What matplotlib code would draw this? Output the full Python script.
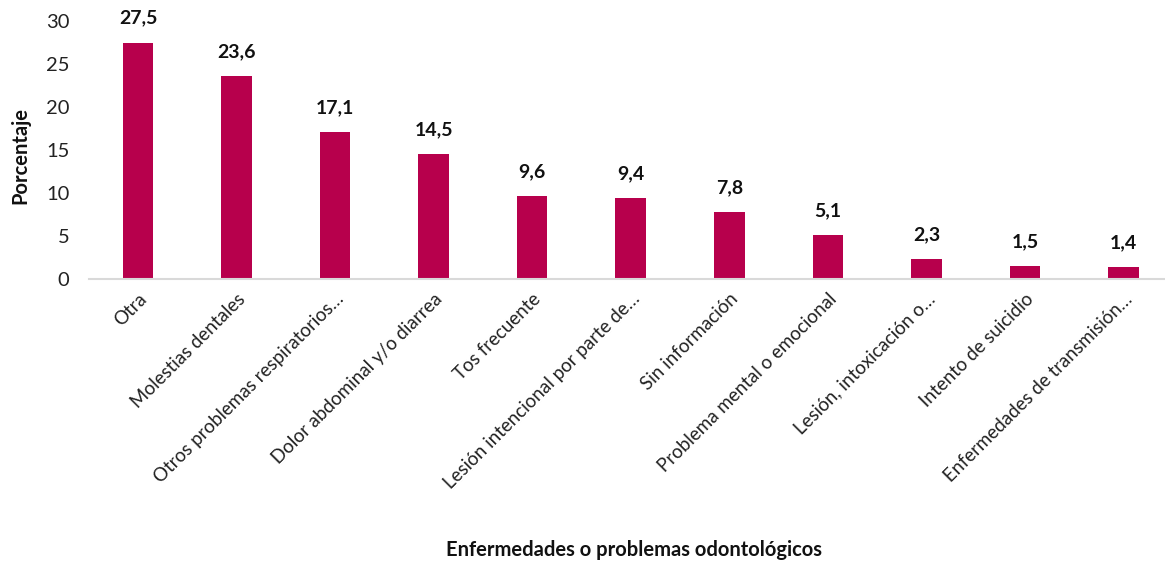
import matplotlib.pyplot as plt

categories = [
    "Otra",
    "Molestias dentales",
    "Otros problemas respiratorios…",
    "Dolor abdominal y/o diarrea",
    "Tos frecuente",
    "Lesión intencional por parte de…",
    "Sin información",
    "Problema mental o emocional",
    "Lesión, intoxicación o…",
    "Intento de suicidio",
    "Enfermedades de transmisión…",
]
values = [27.5, 23.6, 17.1, 14.5, 9.6, 9.4, 7.8, 5.1, 2.3, 1.5, 1.4]
y_ticks = [0, 5, 10, 15, 20, 25, 30]

BAR_COLOR = "#B7004C"

plt.rcParams["font.family"] = ["Lato", "DejaVu Sans"]

fig = plt.figure(figsize=(11.65, 5.62), dpi=100)
ax = fig.add_axes([88.7 / 1165, 283 / 562, 1084 / 1165, 258 / 562])

x = list(range(len(categories)))
bars = ax.bar(x, values, width=0.31, color=BAR_COLOR, zorder=2)

# ---------------- VALUE LABELS ----------------
for rect, v in zip(bars, values):
    ax.annotate(
        f"{v:.1f}".replace(".", ","),
        (rect.get_x() + rect.get_width() / 2, rect.get_height()),
        xytext=(0, 11.5), textcoords="offset points",
        ha="center", va="bottom", fontsize=14, fontweight="bold",
        color="#111111", annotation_clip=False,
    )

# ---------------- AXES ----------------
ax.set_xlim(-0.5, len(categories) - 0.5)
ax.set_ylim(0, 30)
ax.set_yticks(y_ticks)
ax.set_yticklabels([str(t) for t in y_ticks], fontsize=14.5, color="#222222")
ax.set_xticks(x)
ax.set_xticklabels(categories, rotation=45, ha="right", rotation_mode="anchor",
                   fontsize=13.5, color="#222222")
ax.tick_params(axis="both", length=0)
ax.tick_params(axis="y", pad=14)
ax.tick_params(axis="x", pad=8)

for side in ["top", "right", "left"]:
    ax.spines[side].set_visible(False)
ax.spines["bottom"].set_color("#D9D9D9")
ax.spines["bottom"].set_linewidth(1.5)
ax.spines["bottom"].set_zorder(3)

fig.text(20 / 1165, 1 - 156 / 562, "Porcentaje", rotation=90, ha="center",
         va="center", fontsize=14.5, fontweight="bold", color="#111111")
fig.text(634 / 1165, 1 - 550 / 562, "Enfermedades o problemas odontológicos",
         ha="center", va="center", fontsize=14.5, fontweight="bold",
         color="#111111")

fig.savefig("out.png", dpi=100)
